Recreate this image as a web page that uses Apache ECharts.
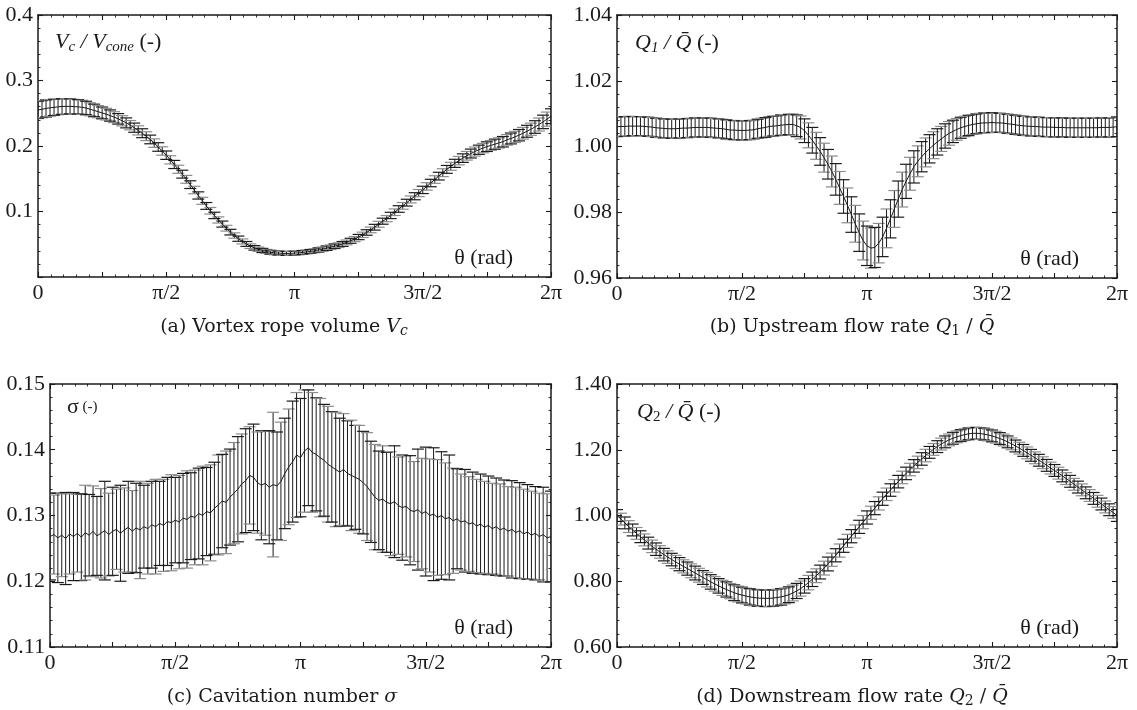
<!DOCTYPE html>
<html><head><meta charset="utf-8">
<script src="https://cdn.jsdelivr.net/npm/echarts@6/dist/echarts.min.js"></script>
<style>html,body{margin:0;padding:0;background:#fff}#c{width:1137px;height:710px}</style>
</head><body><div id="c"></div>
<script>
// ---- tick labels ----
const xTickLabels = ['0', 'π/2', 'π', '3π/2', '2π'];
const STEP = Math.PI / 64; // 129 samples over one revolution

// ---- (a) vortex rope volume ----
const volMean = [0.255,0.2561,0.2573,0.2583,0.259,0.2598,0.2603,0.2605,0.2605,0.2601,
 0.2598,0.2591,0.258,0.2561,0.2543,0.2524,0.2505,0.2486,0.2465,0.2441,
 0.2415,0.2385,0.2353,0.2318,0.228,0.2239,0.2195,0.215,0.210,0.2044,
 0.1985,0.1924,0.186,0.1789,0.1718,0.1645,0.157,0.1491,0.141,0.1328,
 0.1245,0.1163,0.1085,0.1011,0.094,0.0871,0.0808,0.0745,0.0685,0.0633,
 0.0585,0.0543,0.0505,0.0471,0.0445,0.0424,0.0405,0.039,0.0378,0.0369,
 0.0365,0.0361,0.036,0.0361,0.0365,0.0369,0.0375,0.0383,0.039,0.0401,
 0.0413,0.0425,0.044,0.0455,0.047,0.0486,0.0505,0.0528,0.0553,0.0579,
 0.061,0.0644,0.068,0.0719,0.076,0.0805,0.0852,0.0891,0.094,0.0989,
 0.1038,0.1086,0.1135,0.1184,0.1233,0.1281,0.133,0.1383,0.1435,0.1488,
 0.154,0.1593,0.1643,0.169,0.1735,0.1776,0.1815,0.1851,0.1885,0.1915,
 0.1943,0.1968,0.199,0.2009,0.2028,0.2047,0.2065,0.2094,0.2115,0.2139,
 0.2165,0.2195,0.2225,0.2256,0.229,0.2328,0.2368,0.241,0.2455];
const volErr = [0.013,0.013,0.013,0.0127,0.0124,0.0121,0.012,0.0117,0.0114,0.0111,0.011,0.0107,0.0103,
 0.0099,0.0096,0.0093,0.009,0.0089,0.0086,0.0083,0.008,0.0078,0.0076,
 0.0071,0.007,0.007,0.0068,0.0067,0.0066,0.0065,0.0065,0.0064,0.0064,0.0063,0.0062,0.0061,0.006,0.006,0.0059,0.0057,0.0055,
 0.0054,0.0052,0.005,0.0049,0.0047,0.0046,0.0044,0.0043,0.0041,0.004,0.0038,0.0037,0.0035,
 0.0034,0.0033,0.0032,0.0031,0.003,0.003,0.003,0.003,0.003,0.003,0.003,0.003,0.003,0.003,0.003,0.0031,0.0032,0.0033,0.0034,
 0.0035,0.0035,0.0036,0.0037,0.0037,0.0038,0.0039,0.004,0.0041,0.0042,0.0043,0.0044,0.0045,0.0046,0.0047,0.0048,0.005,0.005,0.0051,0.0052,0.0053,
 0.0054,0.0055,0.0056,0.0057,0.0057,0.0058,0.0059,0.006,0.006,0.0061,0.0062,0.0064,0.0065,0.0066,0.0068,0.0069,
 0.007,0.0072,0.0074,0.0075,0.0077,0.0078,0.008,0.0081,0.0083,0.0085,0.0087,0.0089,0.0091,0.0093,0.0096,0.0099,0.0103,0.0108,0.0113];

// ---- (b) upstream flow rate ----
const q1Mean = [1.0060,1.0061,1.0061,1.0062,1.0062,1.0062,1.0062,1.0061,1.0060,1.0059,
 1.0057,1.0056,1.0055,1.0054,1.0054,1.0054,1.0055,1.0056,1.0056,1.0057,
 1.0058,1.0058,1.0058,1.0058,1.0057,1.0056,1.0055,1.0054,1.0052,1.0050,
 1.0050,1.0049,1.0049,1.0049,1.0050,1.0051,1.0054,1.0056,1.0058,1.0061,
 1.0062,1.0063,1.0065,1.0066,1.0067,1.0067,1.0063,1.0058,1.0048,1.0034,
 1.0019,1.0002,0.9985,0.9966,0.9946,0.9924,0.9900,0.9874,0.9848,0.9821,
 0.9793,0.9765,0.9738,0.9714,0.9698,0.9691,0.9693,0.9706,0.9725,0.9751,
 0.9780,0.9810,0.9840,0.9869,0.9894,0.9917,0.9938,0.9955,0.9969,0.9982,
 0.9993,1.0004,1.0014,1.0023,1.0032,1.0040,1.0046,1.0052,1.0057,1.0061,
 1.0064,1.0067,1.0069,1.0071,1.0072,1.0072,1.0073,1.0072,1.0072,1.0071,
 1.0069,1.0068,1.0066,1.0064,1.0063,1.0062,1.0061,1.0061,1.0060,1.0059,
 1.0059,1.0059,1.0058,1.0058,1.0058,1.0057,1.0057,1.0057,1.0057,1.0057,
 1.0057,1.0057,1.0057,1.0057,1.0058,1.0058,1.0058,1.0059,1.0060];
const q1Err = [0.0030,0.0030,0.0030,0.0030,0.0029,0.0029,0.0029,0.0029,0.0029,0.0029,
 0.0029,0.0029,0.0029,0.0029,0.0029,0.0029,0.0029,0.0029,0.0029,0.0029,
 0.0029,0.0029,0.0029,0.0029,0.0029,0.0029,0.0029,0.0029,0.0029,0.0029,
 0.0029,0.0029,0.0029,0.0029,0.0029,0.0029,0.0029,0.0030,0.0030,0.0030,
 0.0030,0.0030,0.0031,0.0031,0.0031,
 0.0032,0.0033,0.0035,0.0036,0.0038,0.0039,0.0041,0.0042,0.0044,0.0045,0.0047,0.0048,0.0050,0.0051,0.0053,0.0054,0.0056,0.0057,0.0059,
 0.0060,0.0061,0.0061,0.0060,0.0060,0.0059,
 0.0058,0.0056,0.0055,0.0053,0.0052,0.0050,0.0049,0.0047,0.0046,0.0044,0.0043,0.0041,0.0040,0.0038,0.0037,0.0036,0.0034,0.0033,0.0032,
 0.0031,0.0031,0.0030,0.0030,0.0030,0.0030,0.0030,0.0030,0.0029,0.0029,
 0.0029,0.0029,0.0029,0.0029,0.0029,0.0029,0.0029,0.0029,0.0029,0.0029,
 0.0029,0.0029,0.0029,0.0029,0.0029,0.0029,0.0029,0.0029,0.0029,0.0029,
 0.0029,0.0029,0.0029,0.0029,0.0029,0.0029,0.0029,0.0029,0.0029,0.0030];

// ---- (c) cavitation number ----
const sigMean = [0.1268,0.1271,0.1266,0.1270,0.1265,0.1272,0.1268,0.1273,
 0.1267,0.1274,0.1270,0.1276,0.1269,0.1273,0.1277,0.1271,
 0.1276,0.1279,0.1273,0.1278,0.1282,0.1276,0.1281,0.1278,
 0.1283,0.1280,0.1286,0.1283,0.1288,0.1285,0.1291,0.1289,
 0.1293,0.1290,0.1296,0.1294,0.1299,0.1297,0.1303,0.1300,
 0.1306,0.1304,0.1311,0.1316,0.1322,0.1320,0.1328,0.1334,
 0.1340,0.1348,0.1353,0.1361,0.1358,0.1350,0.1346,0.1349,
 0.1343,0.1347,0.1345,0.1352,0.1364,0.1374,0.1382,0.1392,
 0.1388,0.1398,0.1403,0.1396,0.1393,0.1388,0.1384,0.1378,
 0.1374,0.1370,0.1366,0.1370,0.1364,0.1361,0.1358,0.1355,
 0.1350,0.1344,0.1336,0.1328,0.1323,0.1325,0.1320,0.1318,
 0.1321,0.1315,0.1312,0.1314,0.1308,0.1306,0.1309,0.1303,
 0.1306,0.1300,0.1302,0.1297,0.1300,0.1295,0.1297,0.1292,
 0.1295,0.1290,0.1292,0.1287,0.1289,0.1284,0.1287,0.1282,
 0.1285,0.1280,0.1283,0.1278,0.1281,0.1276,0.1279,0.1274,
 0.1277,0.1272,0.1275,0.1270,0.1273,0.1268,0.1271,0.1266,
 0.1268];
const sigErr = [0.0066,0.0060,0.0068,0.0063,0.0070,0.0061,0.0067,0.0059,
 0.0066,0.0072,0.0062,0.0069,0.0060,0.0068,0.0075,0.0063,
 0.0067,0.0061,0.0073,0.0064,0.0070,0.0062,0.0068,0.0074,
 0.0063,0.0069,0.0066,0.0072,0.0064,0.0070,0.0067,0.0073,
 0.0065,0.0071,0.0068,0.0074,0.0066,0.0072,0.0069,0.0075,
 0.0067,0.0073,0.0070,0.0076,0.0071,0.0078,0.0073,0.0077,
 0.0080,0.0076,0.0079,0.0074,0.0081,0.0077,0.0083,0.0079,
 0.0086,0.0110,0.0082,0.0090,0.0084,0.0088,0.0092,0.0095,
 0.0090,0.0093,0.0088,0.0091,0.0086,0.0090,0.0085,0.0088,
 0.0084,0.0087,0.0082,0.0085,0.0080,0.0084,0.0079,0.0082,
 0.0078,0.0082,0.0077,0.0080,0.0075,0.0081,0.0076,0.0079,
 0.0085,0.0074,0.0080,0.0077,0.0083,0.0076,0.0092,0.0084,
 0.0098,0.0086,0.0101,0.0088,0.0097,0.0085,0.0095,0.0080,
 0.0076,0.0073,0.0078,0.0072,0.0077,0.0071,0.0076,0.0070,
 0.0075,0.0069,0.0074,0.0070,0.0073,0.0068,0.0074,0.0069,
 0.0073,0.0068,0.0072,0.0067,0.0071,0.0066,0.0072,0.0067,
 0.0069];

// ---- (d) downstream flow rate ----
const q2Mean = [1.000,0.989,0.9775,0.9663,0.956,0.9455,0.9355,0.9258,0.916,0.9063,
 0.8975,0.8893,0.881,0.8735,0.866,0.8588,0.852,0.8453,0.8385,0.8318,
 0.825,0.8183,0.8115,0.8048,0.798,0.792,0.786,0.780,0.775,0.7698,
 0.765,0.761,0.758,0.755,0.7525,0.7505,0.749,0.7483,0.748,0.748,
 0.749,0.7505,0.7525,0.7553,0.759,0.7643,0.7705,0.7778,0.786,0.7958,
 0.806,0.8168,0.828,0.840,0.8525,0.8655,0.879,0.8933,0.908,0.9228,
 0.937,0.9513,0.9655,0.9798,0.994,1.0083,1.0225,1.0368,1.051,1.0645,
 1.0775,1.0903,1.103,1.1158,1.128,1.1398,1.151,1.1615,1.172,1.1823,
 1.192,1.201,1.2095,1.2173,1.224,1.230,1.235,1.2393,1.243,1.246,
 1.2485,1.250,1.250,1.2493,1.2475,1.245,1.242,1.2383,1.234,1.2295,
 1.224,1.218,1.2115,1.2048,1.198,1.1905,1.183,1.1755,1.168,1.1605,
 1.1525,1.1443,1.137,1.1288,1.1205,1.1123,1.104,1.095,1.0865,1.078,
 1.069,1.0608,1.052,1.0433,1.035,1.026,1.0175,1.0093,1.000];
const q2Err = [0.018,0.018,0.018,0.018,0.018,0.018,0.018,0.018,0.018,0.019,0.019,0.019,0.019,0.019,0.019,0.020,0.020,0.020,0.020,0.021,0.021,0.021,0.021,0.022,0.022,0.022,0.022,
 0.023,0.023,0.023,0.024,0.024,0.024,0.024,0.025,0.025,0.025,0.025,0.025,0.025,0.025,0.025,0.025,0.024,0.024,0.024,0.023,0.023,0.022,
 0.022,0.022,0.021,0.021,0.021,0.021,0.020,0.020,0.020,0.020,0.020,0.020,0.020,0.020,0.020,0.020,
 0.020,0.020,0.020,0.020,0.019,0.019,0.019,0.019,0.019,0.019,0.019,0.019,0.019,0.019,0.019,0.018,
 0.018,0.018,0.018,0.018,0.018,0.018,0.018,0.018,0.018,0.018,0.018,0.018,0.018,0.018,0.018,0.018,
 0.018,0.018,0.018,0.018,0.018,0.018,0.018,0.018,0.018,0.018,0.018,0.018,0.018,0.018,0.018,0.018,
 0.018,0.018,0.018,0.018,0.018,0.018,0.018,0.018,0.018,0.018,0.018,0.018,0.018,0.018,0.018,0.018];

// ---- y tick settings ----
const yA = {min: 0, max: 0.4, interval: 0.1, dec: 1, hideMin: true};
const yB = {min: 0.96, max: 1.04, interval: 0.02, dec: 2};
const yC = {min: 0.11, max: 0.15, interval: 0.01, dec: 2};
const yD = {min: 0.60, max: 1.40, interval: 0.20, dec: 2};

const SERIF = 'Liberation Serif';
const CAPF = 'DejaVu Serif';
const INK = '#1a1a1a';

const panels = [
  {mean: volMean, err: volErr, y: yA, grid: {left: 38, top: 15, width: 513, height: 262}},
  {mean: q1Mean, err: q1Err, y: yB, grid: {left: 617, top: 15, width: 500, height: 263}},
  {mean: sigMean, err: sigErr, y: yC, grid: {left: 50, top: 384, width: 501, height: 263}},
  {mean: q2Mean, err: q2Err, y: yD, grid: {left: 617, top: 384, width: 500, height: 263}}
];

function xFmt(v) {
  const r = Math.round(v / (Math.PI / 4));
  if (r % 2 !== 0) return '';
  return xTickLabels[r / 2] || '';
}

const grids = [], xAxes = [], yAxes = [], series = [];
const lineStyleAx = {color: INK, width: 1.5};
panels.forEach((p, i) => {
  grids.push(Object.assign({containLabel: false}, p.grid));
  const xBase = {
    gridIndex: i, type: 'value', min: 0, max: 2 * Math.PI, interval: Math.PI / 4,
    axisLine: {show: true, onZero: false, lineStyle: lineStyleAx},
    axisTick: {show: true, inside: true, length: 5, lineStyle: {color: INK, width: 1.1}},
    minorTick: {show: true, splitNumber: 5, length: 2.5, lineStyle: {color: INK, width: 0.9}},
    splitLine: {show: false}, minorSplitLine: {show: false}
  };
  xAxes.push(Object.assign({}, xBase, {
    position: 'bottom',
    axisLabel: {show: true, formatter: xFmt, fontFamily: SERIF, fontSize: 22, color: INK, margin: 5,
      showMinLabel: true, showMaxLabel: true, hideOverlap: false}
  }));
  xAxes.push(Object.assign({}, xBase, {position: 'top', axisLabel: {show: false}}));
  const y = p.y;
  const yBase = {
    gridIndex: i, type: 'value', min: y.min, max: y.max, interval: y.interval,
    axisLine: {show: true, onZero: false, lineStyle: lineStyleAx},
    axisTick: {show: true, inside: true, length: 5, lineStyle: {color: INK, width: 1.1}},
    minorTick: {show: true, splitNumber: 5, length: 2.5, lineStyle: {color: INK, width: 0.9}},
    splitLine: {show: false}, minorSplitLine: {show: false}
  };
  yAxes.push(Object.assign({}, yBase, {
    position: 'left',
    axisLabel: {show: true, fontFamily: SERIF, fontSize: 22, color: INK, margin: 5,
      showMinLabel: true, showMaxLabel: true,
      formatter: v => (y.hideMin && Math.abs(v - y.min) < 1e-9) ? '' : v.toFixed(y.dec)}
  }));
  yAxes.push(Object.assign({}, yBase, {position: 'right', axisLabel: {show: false}}));

  const data = p.mean.map((m, k) => [k * STEP, m, p.err[k]]);
  series.push({
    type: 'custom', xAxisIndex: 2 * i, yAxisIndex: 2 * i, clip: true, silent: true, z: 2,
    encode: {x: 0, y: 1},
    data: data,
    renderItem: function (params, api) {
      const x = api.value(0), m = api.value(1), e = api.value(2);
      const hi = api.coord([x, m + e]);
      const lo = api.coord([x, m - e]);
      const w = 6;
      const cap = params.dataIndex % 2 ? '#8c8c8c' : INK;
      return {type: 'group', children: [
        {type: 'line', shape: {x1: hi[0], y1: hi[1], x2: lo[0], y2: lo[1]}, style: {stroke: INK, lineWidth: 1}},
        {type: 'line', shape: {x1: hi[0] - w, y1: hi[1], x2: hi[0] + w, y2: hi[1]}, style: {stroke: cap, lineWidth: 1.2}},
        {type: 'line', shape: {x1: lo[0] - w, y1: lo[1], x2: lo[0] + w, y2: lo[1]}, style: {stroke: cap, lineWidth: 1.2}}
      ]};
    }
  });
  series.push({
    type: 'line', xAxisIndex: 2 * i, yAxisIndex: 2 * i, z: 3, silent: true,
    showSymbol: false, symbol: 'none', smooth: false,
    lineStyle: {color: INK, width: 1},
    data: data.map(d => [d[0], d[1]])
  });
});

// ---- texts ----
function richSet(size, subSize, family) {
  return {
    i: {fontFamily: family, fontStyle: 'italic', fontSize: size, lineHeight: size + 4, fill: INK},
    n: {fontFamily: family, fontSize: size, lineHeight: size + 4, fill: INK},
    sm: {fontFamily: family, fontSize: subSize, lineHeight: size + 4, fill: INK},
    s: {fontFamily: family, fontStyle: 'italic', fontSize: subSize, lineHeight: size + 4, padding: [Math.round(size * 0.45), 0, 0, 0], fill: INK},
    r: {fontFamily: family, fontSize: subSize, lineHeight: size + 4, padding: [Math.round(size * 0.45), 0, 0, 0], fill: INK}
  };
}
function txt(x, y, text, align, rich) {
  return {type: 'text', x: x, y: y, silent: true, z: 10,
    style: {text: text, rich: rich, align: align, textAlign: align, verticalAlign: 'middle', textVerticalAlign: 'middle', fill: INK}};
}
const inRich = richSet(22, 15, SERIF);
const capRich = richSet(19, 14, CAPF);
const graphics = [
  txt(55, 42, '{i|V}{s|c}{i| / V}{s|cone}{n| (-)}', 'left', inRich),
  txt(635, 43, '{i|Q}{s|1}{i| / Q\u0304}{n| (-)}', 'left', inRich),
  txt(67, 407, '{n|σ}{sm| (-)}', 'left', inRich),
  txt(637, 412, '{i|Q}{r|2}{i| / Q\u0304}{n| (-)}', 'left', inRich),
  txt(513, 258, '{n|θ (rad)}', 'right', inRich),
  txt(1079, 259, '{n|θ (rad)}', 'right', inRich),
  txt(513, 628, '{n|θ (rad)}', 'right', inRich),
  txt(1079, 628, '{n|θ (rad)}', 'right', inRich),
  txt(284, 327, '{n|(a) Vortex rope volume }{i|V}{s|c}', 'center', capRich),
  txt(852, 327, '{n|(b) Upstream flow rate }{i|Q}{r|1}{n| / }{i|Q\u0304}', 'center', capRich),
  txt(282, 697, '{n|(c) Cavitation number }{i|σ}', 'center', capRich),
  txt(852, 697, '{n|(d) Downstream flow rate }{i|Q}{r|2}{n| / }{i|Q\u0304}', 'center', capRich)
];

const chart = echarts.init(document.getElementById('c'), null, {renderer: 'canvas'});
chart.setOption({
  animation: false,
  backgroundColor: '#fff',
  grid: grids, xAxis: xAxes, yAxis: yAxes, series: series,
  graphic: {elements: graphics}
});
</script></body></html>
